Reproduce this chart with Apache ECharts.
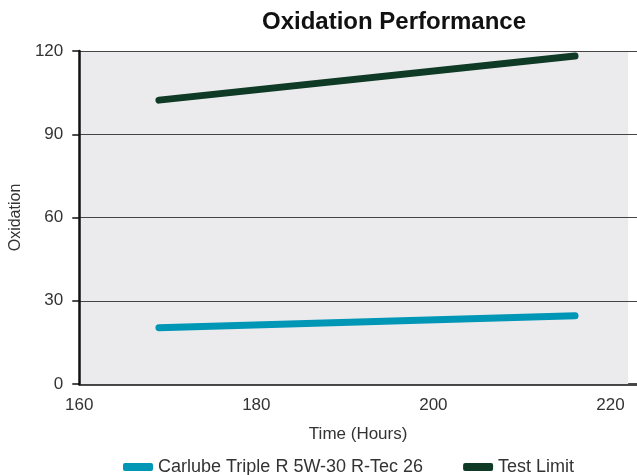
<!DOCTYPE html>
<html><head><meta charset="utf-8">
<script src="https://cdn.jsdelivr.net/npm/echarts@6/dist/echarts.min.js"></script>
<style>html,body{margin:0;padding:0;background:#fff}#c{width:637px;height:475px}</style>
</head><body><div id="c"></div>
<script>
const hours = [169, 216];
const carlube = [20.3, 24.6];
const testLimit = [102.3, 118.2];
const seriesNames = ['Carlube Triple R 5W-30 R-Tec 26', 'Test Limit'];
const bgRange = [160, 222];
const font = 'Liberation Sans, Arial, sans-serif';
const chart = echarts.init(document.getElementById('c'));
chart.setOption({
  animation: false,
  title: { text: 'Oxidation Performance', left: 389, top: 5, textAlign: 'center',
    textStyle: { fontFamily: font, fontWeight: 'bold', fontSize: 24, color: '#111' } },
  grid: { left: 79, top: 51, right: 0, bottom: 91 },
  legend: { bottom: -6, left: 118, itemWidth: 30, itemHeight: 8, itemGap: 40, icon: 'roundRect',
    textStyle: { fontFamily: font, fontSize: 18, color: '#333' } },
  xAxis: { type: 'value', min: 160, max: 223, interval: 20,
    name: 'Time (Hours)', nameLocation: 'middle', nameGap: 42,
    nameTextStyle: { fontFamily: font, fontSize: 17, color: '#333' },
    axisLine: { lineStyle: { color: '#111', width: 2.5 } },
    axisTick: { show: false }, splitLine: { show: false }, minorTick: { show: false },
    axisLabel: { fontFamily: font, fontSize: 17, color: '#333', margin: 13, showMaxLabel: false } },
  yAxis: { type: 'value', min: 0, max: 120, interval: 30, z: 3,
    name: 'Oxidation', nameLocation: 'middle', nameGap: 48,
    nameTextStyle: { fontFamily: font, fontSize: 16, color: '#333' },
    axisLine: { show: true, lineStyle: { color: '#111', width: 2.5 } },
    axisTick: { show: true, length: 7, lineStyle: { color: '#111', width: 1.5 } },
    splitLine: { lineStyle: { color: '#444', width: 1.2 } },
    axisLabel: { fontFamily: font, fontSize: 17, color: '#333', margin: 16 } },
  series: [
    { name: seriesNames[0], type: 'line', data: hours.map((h, i) => [h, carlube[i]]), symbol: 'none',
      color: '#0096b6', lineStyle: { width: 7, cap: 'round' },
      markArea: { silent: true, label: { show: false }, itemStyle: { color: '#ebebed', borderWidth: 0 },
        data: [[{ xAxis: bgRange[0] }, { xAxis: bgRange[1] }]] } },
    { name: seriesNames[1], type: 'line', data: hours.map((h, i) => [h, testLimit[i]]), symbol: 'none',
      color: '#0f3a26', lineStyle: { width: 7, cap: 'round' } }
  ]
});
</script></body></html>
